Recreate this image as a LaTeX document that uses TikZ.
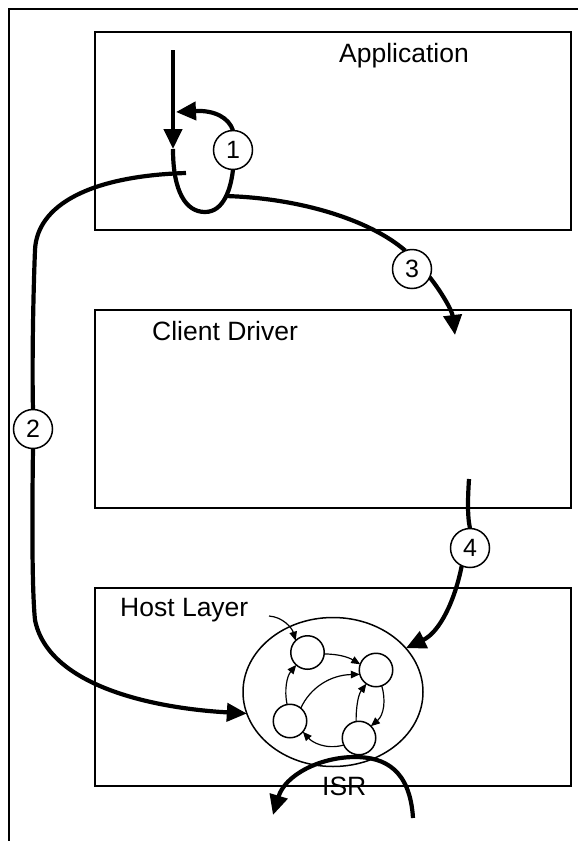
\documentclass[tikz,border=0pt]{standalone}
\usepackage{fontspec}
\setmainfont{Liberation Sans}
\usetikzlibrary{arrows.meta,shapes.geometric}

\begin{document}
\begin{tikzpicture}[x=1pt,y=-1pt,
    layer/.style={draw,line width=1.6pt,minimum width=476pt,minimum height=198pt,inner sep=0pt,outer sep=0pt},
    lbl/.style={font=\fontsize{26.5}{30}\selectfont,inner sep=0pt,anchor=base west},
    num/.style={circle,draw,line width=1.5pt,minimum size=39pt,inner sep=0pt,outer sep=0pt,font=\fontsize{25}{28}\selectfont},
    state/.style={circle,draw,line width=1.5pt,minimum size=33.5pt,inner sep=0pt,outer sep=0pt},
    heavy/.style={line width=4.2pt},
    heavyarrow/.style={line width=4.2pt,-{Triangle[length=20pt,width=18pt]}},
    lightarrow/.style={line width=1.2pt,-{Triangle[length=9pt,width=7.5pt]}}]
    \useasboundingbox (0,0) rectangle (578,841);

    % Outer frame
    \draw[line width=2.5pt] (9,841) -- (9,9) -- (578,9);

    % Layers
    \node[layer] (app) at (333,131) {};
    \node[layer] (drv) at (333,409) {};
    \node[layer] (host) at (333,687) {};
    \node[lbl] (applbl) at (339,62) {Application};
    \node[lbl] (drvlbl) at (152,340) {Client Driver};
    \node[lbl] (hostlbl) at (120,616) {Host Layer};

    % State machine inside the host layer
    \node[ellipse,draw,line width=1.5pt,minimum width=180pt,minimum height=149pt,inner sep=0pt,outer sep=0pt] (ring) at (333,692) {};
    \node[state] (s1) at (307.5,652.5) {};
    \node[state] (s2) at (376,670) {};
    \node[state] (s3) at (290,721) {};
    \node[state] (s4) at (359,738) {};
    \coordinate (irq) at (269,616);
    \draw[lightarrow] (irq) .. controls (283,617) and (292,628) .. (s1.135);
    \draw[lightarrow] (s1.-5) .. controls (338,654) and (348,657) .. (s2.160);
    \draw[lightarrow] (s3.100) .. controls (284,690) and (287,676) .. (s1.228);
    \draw[lightarrow] (s3.50) .. controls (310,688) and (330,675) .. (s2.195);
    \draw[lightarrow] (s2.-70) .. controls (386,700) and (384,715) .. (s4.45);
    \draw[lightarrow] (s4.100) .. controls (356,708) and (358,695) .. (s2.235);
    \draw[lightarrow] (s4.205) .. controls (325,750) and (312,742) .. (s3.-40);

    % Call into the application (1)
    \coordinate (entry) at (173,50);
    \coordinate (call) at (173,149);
    \coordinate (back) at (176,112);
    \node[num] (n1) at (233,150) {1};
    \draw[heavyarrow] (entry) -- (call);
    \draw[heavy] (call) .. controls (173,192) and (186,212) .. (205,212)
        .. controls (224,212) and (231,188) .. (n1.south);
    \draw[heavyarrow] (n1.north) .. controls (229,118) and (215,110) .. (back);

    % Direct path to the host layer (2)
    \coordinate (fork2) at (186,173);
    \node[num] (n2) at (33,429) {2};
    \draw[heavy] (fork2) .. controls (90,176) and (37,205) .. (35,250)
        .. controls (33,300) and (32,370) .. (n2.north);
    \draw[heavyarrow] (n2.south) .. controls (32,520) and (32,590) .. (35,620)
        .. controls (48,685) and (150,708) .. (ring.194);

    % Path through the client driver (3, 4)
    \coordinate (fork3) at (225,196);
    \coordinate (drvin) at (455,335);
    \coordinate (drvout) at (469,479);
    \node[num] (n3) at (412,269) {3};
    \node[num] (n4) at (470,548) {4};
    \draw[heavy] (fork3) .. controls (300,198) and (370,220) .. (n3.110);
    \draw[heavyarrow] (n3.-25) .. controls (440,290) and (452,310) .. (drvin);
    \draw[heavy] (drvout) .. controls (468,495) and (467,515) .. (n4.north);
    \draw[heavyarrow] (n4.-115) .. controls (455,600) and (440,632) .. (ring.31);

    % Interrupt service routine
    \coordinate (isrfrom) at (413,818);
    \coordinate (isrto) at (273,815);
    \draw[heavyarrow] (isrfrom) .. controls (410,770) and (385,757) .. (355,757)
        .. controls (320,757) and (285,775) .. (isrto);
    \node[lbl] (isrlbl) at (322,795) {ISR};
\end{tikzpicture}
\end{document}
